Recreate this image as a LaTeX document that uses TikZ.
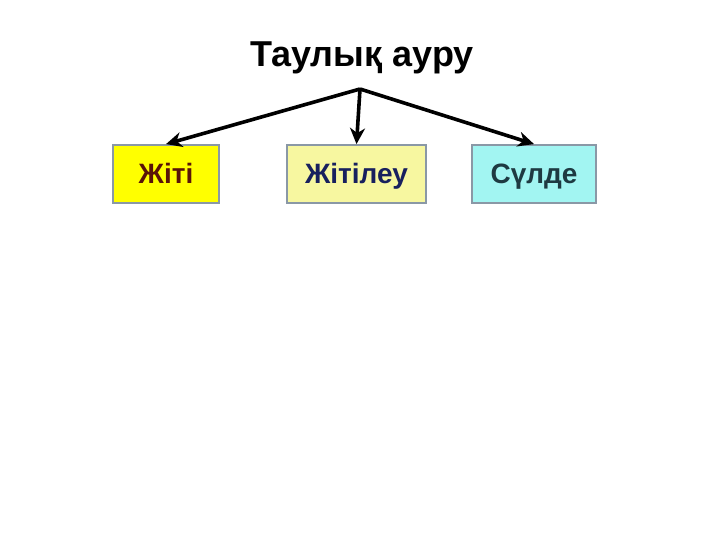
\documentclass[tikz,border=0pt]{standalone}
\usepackage{fontspec}
\setmainfont{Liberation Sans}
\usetikzlibrary{arrows.meta}
\definecolor{boxedge}{HTML}{8A98A6}
\definecolor{fillA}{HTML}{FFFF00}
\definecolor{fillB}{HTML}{F7F7A0}
\definecolor{fillC}{HTML}{A2F5F2}
\definecolor{textA}{HTML}{5A1408}
\definecolor{textB}{HTML}{18205E}
\definecolor{textC}{HTML}{1E3A42}
\tikzset{
  catbox/.style={draw=boxedge, line width=1.8pt, minimum height=58pt, inner sep=0pt,
    text height=20pt, text depth=0pt,
    font=\fontsize{28}{32}\selectfont\bfseries},
  branch/.style={line width=3.6pt, -{Stealth[length=16pt,width=15pt,inset=5pt]}}
}
\begin{document}
\begin{tikzpicture}[x=1pt,y=-1pt]
\useasboundingbox (0,0) rectangle (720,540);
\fill[white] (0,0) rectangle (720,540);
\node[font=\fontsize{36}{40}\selectfont\bfseries, anchor=base] (title) at (362,67) {Таулық ауру};
\coordinate (hub) at (360,89);
\node[catbox, fill=fillA, text=textA, minimum width=106pt] (a) at (166,174) {Жіті};
\node[catbox, fill=fillB, text=textB, minimum width=139pt] (b) at (356.5,174) {Жітілеу};
\node[catbox, fill=fillC, text=textC, minimum width=124pt] (c) at (534,174) {Сүлде};
\draw[branch] (hub) -- (a.north);
\draw[branch] (hub) -- (b.north);
\draw[branch] (hub) -- (c.north);
\end{tikzpicture}
\end{document}
